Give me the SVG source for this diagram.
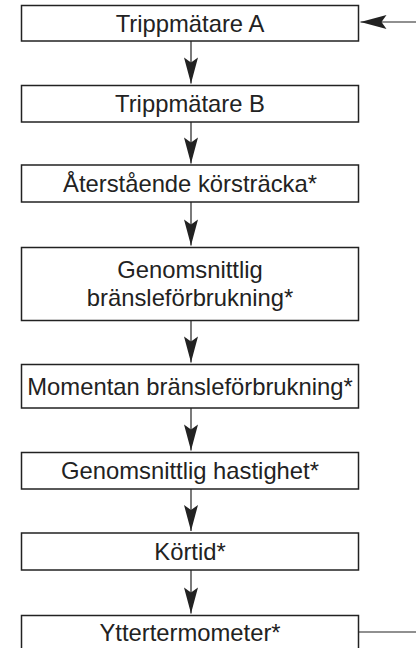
<svg xmlns="http://www.w3.org/2000/svg" width="416" height="648" viewBox="0 0 416 648">
<style>
.box{fill:#fff;stroke:#222;stroke-width:1.5}
.lbl{font-family:"Liberation Sans",Arial,Helvetica,sans-serif;font-size:23.8px;fill:#222;text-anchor:middle}
.conn{stroke:#222;stroke-width:1.2;fill:none}
</style>
<defs>
<marker id="ah" markerUnits="userSpaceOnUse" markerWidth="30" markerHeight="16" viewBox="-27 -8 28 16" refX="0" refY="0" orient="auto">
<path d="M0,0 L-26,-7 L-21,0 L-26,7 Z" fill="#222"/>
</marker>
</defs>
<rect width="416" height="648" fill="#fff"/>
<g id="connectors">
<line class="conn" x1="191" y1="41" x2="191" y2="83.5" marker-end="url(#ah)"/>
<line class="conn" x1="191" y1="122" x2="191" y2="163.5" marker-end="url(#ah)"/>
<line class="conn" x1="191" y1="202" x2="191" y2="245.5" marker-end="url(#ah)"/>
<line class="conn" x1="191" y1="320.5" x2="191" y2="362.5" marker-end="url(#ah)"/>
<line class="conn" x1="191" y1="408" x2="191" y2="450.5" marker-end="url(#ah)"/>
<line class="conn" x1="191" y1="489" x2="191" y2="531" marker-end="url(#ah)"/>
<line class="conn" x1="191" y1="570" x2="191" y2="613.5" marker-end="url(#ah)"/>
<line class="conn" x1="416" y1="22" x2="360.5" y2="22" marker-end="url(#ah)"/>
<line class="conn" x1="359" y1="632" x2="416" y2="632"/>
</g>
<g id="n1"><rect class="box" x="21.5" y="5.5" width="337" height="35.5"/><text class="lbl" x="190" y="31.5">Trippmätare A</text></g>
<g id="n2"><rect class="box" x="21.5" y="85.5" width="337" height="36.5"/><text class="lbl" x="190" y="112">Trippmätare B</text></g>
<g id="n3"><rect class="box" x="21.5" y="165" width="337" height="37"/><text class="lbl" x="190" y="192">Återstående körsträcka*</text></g>
<g id="n4"><rect class="box" x="21.5" y="247.5" width="337" height="73"/><text class="lbl" x="190" y="277.5">Genomsnittlig</text><text class="lbl" x="190" y="305.5">bränsleförbrukning*</text></g>
<g id="n5"><rect class="box" x="21.5" y="364.5" width="337" height="43.5"/><text class="lbl" x="190" y="394.5">Momentan bränsleförbrukning*</text></g>
<g id="n6"><rect class="box" x="21.5" y="452.5" width="337" height="36.5"/><text class="lbl" x="190" y="479">Genomsnittlig hastighet*</text></g>
<g id="n7"><rect class="box" x="21.5" y="533" width="337" height="37"/><text class="lbl" x="190" y="559.5">Körtid*</text></g>
<g id="n8"><rect class="box" x="21.5" y="615.5" width="337" height="40"/><text class="lbl" x="190" y="641">Yttertermometer*</text></g>
</svg>
